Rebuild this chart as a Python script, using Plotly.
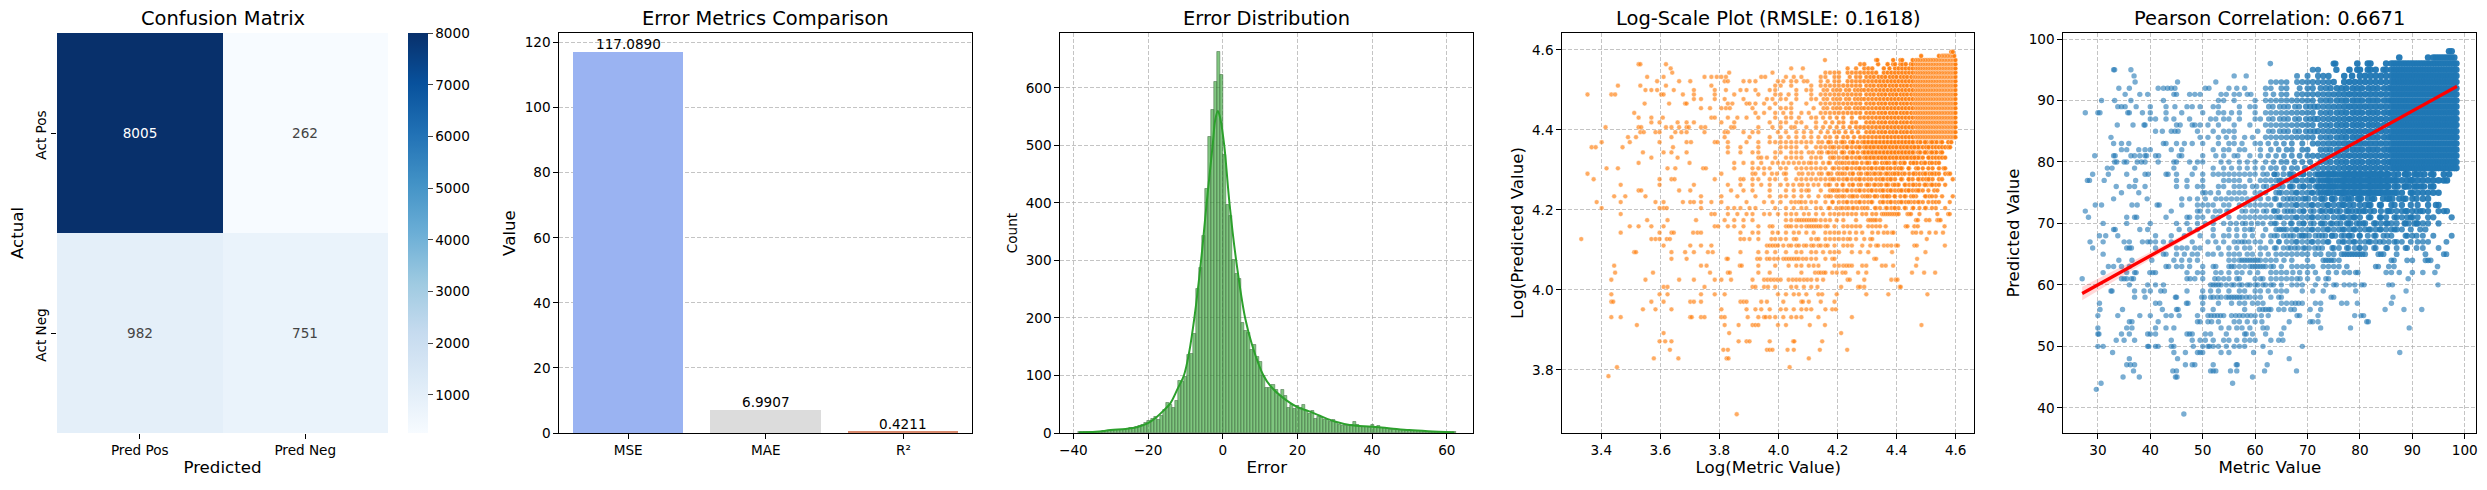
import numpy as np
import plotly.graph_objects as go

WIDTH = 2487
HEIGHT = 490
FONT = "DejaVu Sans"
GRID = "rgba(176,176,176,0.75)"
TICK_SIZE = 13.6

# confusion matrix
cm_x = ["Pred Pos", "Pred Neg"]
cm_y = ["Act Pos", "Act Neg"]
cm_row_pos = [8005, 262]
cm_row_neg = [982, 751]
cm_ticks = [1000, 2000, 3000, 4000, 5000, 6000, 7000, 8000]
blues = ["#f7fbff", "#deebf7", "#c6dbef", "#9ecae1", "#6baed6", "#4292c6", "#2171b5", "#08519c", "#08306b"]

# error metrics
metric_names = ["MSE", "MAE", "R²"]
metric_scores = [117.0890, 6.9907, 0.4211]
metric_colors = ["#9ab3f2", "#dcdcdc", "#d98a6e"]

# error histogram, counts read bar by bar
hist_start = -38.3
hist_width = 0.81
hist_counts = [
    1, 1, 1, 1, 1, 2, 2, 2, 3, 3, 4, 5, 5, 5, 6, 6, 7, 8, 9, 10, 12, 14, 17, 21, 24, 28, 23, 30, 40, 52, 48, 43,
    55, 90, 88, 97, 136, 137, 173, 250, 287, 342, 425, 515, 562, 610, 663, 623, 484, 396, 377, 301, 277, 267,
    192, 177, 174, 144, 153, 133, 123, 99, 78, 79, 84, 75, 64, 75, 64, 43, 49, 42, 47, 43, 49, 39, 33, 39, 24,
    27, 26, 23, 22, 20, 23, 18, 14, 13, 13, 12, 14, 20, 14, 11, 11, 10, 9, 14, 11, 13, 9, 8, 7, 6, 5, 6, 6, 5,
    5, 4, 4, 3, 3, 3, 2, 2, 2, 2, 2, 1, 1, 1, 1, 1, 1,
]
kde_x = [-38.5, -34, -30, -26, -23, -20, -18, -16, -14, -12, -10.4, -9, -7.6, -5.8, -4.3, -2.7, -2, -1.3, -0.6,
         0.4, 1.8, 3.6, 6, 8, 10.9, 13, 16, 20, 23, 26, 30, 34, 40, 45, 50, 55, 62]
kde_y = [1, 2, 5, 7, 10, 17, 26, 38, 52, 78, 100, 140, 200, 300, 400, 500, 545, 560, 545,
         500, 400, 300, 200, 150, 100, 80, 62, 45, 38, 30, 20, 14, 11, 8, 5, 3, 1]

# metric / predicted pairs, one list of metric values per predicted value
# the runs below are the stretches where the points merge into one mass
patch_a = [63.7, 66.8, 69.2, 72.8, 74.7, 77.8, 79.9, 82.7, 85.2, 88.7, 90.8]
patch_b = [64.6, 67.8, 70.8, 73.8, 76.7, 78.8, 81.7, 83.8, 86.6, 89.7]
band_62_71 = [62, 63, 64, 65, 66, 67, 68, 69, 70, 71]
band_62_71_b = [62.6, 63.4, 64.7, 65.5, 66.3, 67.6, 68.4, 69.7, 70.5, 71.3]
band_72_85 = [72, 73, 74, 75, 76, 77, 78, 79, 80, 81, 82, 83, 84, 85]
band_72_85_b = [72.5, 73.5, 74.4, 75.6, 76.5, 77.4, 78.6, 79.5, 80.4, 81.6, 82.5, 83.4, 84.6, 85.5]
solid_86_98 = [86, 86.5, 87, 87.5, 88, 88.5, 89, 89.5, 90, 90.5, 91, 91.5, 92, 92.5, 93, 93.5, 94, 94.5, 95, 95.5,
               96, 96.5, 97, 97.5, 98, 98.4]
pred_39 = [46.4]
pred_43 = [29.7]
pred_44 = [30.6, 55.7]
pred_45 = [34.8, 37.9, 44.8, 45.1, 59.5]
pred_46 = [36.8, 44.3, 45, 51.5, 52, 52.5, 55.3, 56.5, 61.8, 67.9]
pred_47 = [35.5, 36.2, 37, 46.7, 48, 48.5, 52, 56.4, 56.6, 62.3]
pred_48 = [36, 45.2, 66.5]
pred_49 = [32.8, 44.5, 46.7, 49, 49.5, 50, 53.5, 55, 59.7, 62.9, 87.6]
pred_50 = [30, 31, 39.5, 39.7, 41, 41.5, 44, 44.5, 48.2, 50, 51, 51.3, 52, 53, 54.5, 56, 57, 58, 61.5, 69]
pred_51 = [33.5, 35, 37, 44, 48, 49.5, 50.5, 52, 54, 55, 56.5, 58, 59, 60, 63, 64.5, 65.3]
pred_52 = [30, 30.2, 34.5, 36, 39.5, 40, 41, 47, 47.5, 48, 50.5, 51.5, 54.5, 58, 58.3, 59.5, 62, 65]
pred_53 = [30, 35.5, 36.5, 41, 43, 44.5, 53.5, 55, 56.5, 57.5, 59, 61.5, 62.3, 65.5, 72.5, 78.2, 89.4]
pred_54 = [36, 36.5, 41.5, 49, 49.5, 51, 51.7, 53, 56, 57, 58.5, 60, 61.3, 66.5, 70.5, 71, 72, 81.3, 81.6]
pred_55 = [30, 33.8, 38, 40, 43, 44, 45.5, 49, 51, 51.6, 52.2, 52.8, 53.4, 54, 55.5, 56.3, 57, 57.7, 58.5, 59.2,
           60, 61.2, 62.5, 68, 68.5, 72, 79, 80.2, 80.7]
pred_56 = [30.4, 34.7, 42.3, 45, 45.3, 50, 52, 58, 60.8, 61.5, 62, 62.6, 63, 64.5, 65.5, 66.8, 67.5, 70.5, 72.5,
           84.8, 88.4, 91.8]
pred_57 = [30.3, 41, 41.8, 46.9, 47.2, 50, 53, 55.5, 57, 58, 59.5, 60.5, 61.5, 65, 66, 67, 67.7, 68.3, 69, 71.5,
           72.5, 76.5, 77.5, 79.5, 86]
pred_58 = [37, 39, 44.8, 45, 49.8, 50.3, 51.5, 52, 52.8, 53.5, 54.5, 55, 55.5, 56, 56.5, 57, 57.5, 58.3, 59, 60,
           61, 63, 64.5, 65, 74.5, 75, 86.3]
pred_59 = [32.5, 32.7, 37, 38.8, 40, 42, 42.7, 47, 50, 51.5, 53, 55, 57, 58, 60, 61, 62.5, 64, 65, 66, 69, 71, 73,
           79.2, 88.8]
pred_60 = [36, 39.5, 41, 42.5, 51.5, 52, 52.5, 53, 53.5, 54.5, 55.5, 56, 57, 57.5, 58.5, 59, 60, 60.5, 61.5, 62,
           63, 63.5, 65, 67, 68, 69, 71.5, 73.5, 75, 75.5, 77, 78, 79, 80.3, 80.8, 85.5, 86.2, 94.9]
pred_61 = [27, 34.5, 35, 35.5, 36.4, 36.8, 47, 47.6, 48.5, 50, 52.3, 53, 54, 55, 56.5, 57, 60, 61, 61.5, 63, 64,
           65, 66, 67, 68, 68.6, 70, 72, 73.5, 74, 89.2]
pred_62 = [31, 35.5, 37, 37.3, 39.9, 40.5, 41, 47, 49, 50, 52.5, 53.5, 55, 56.5, 57.5, 59, 60.5, 63, 64, 65, 66,
           67.2, 68.5, 70, 71.5, 74, 75.5, 77, 78, 79.2, 79.6, 85, 86, 87.5, 90, 92, 94.3]
pred_63 = [32, 33, 34.5, 36, 43, 43.5, 45, 46, 47.5, 50, 52, 52.5, 55, 55.5, 56, 57, 58, 59, 59.5, 60, 60.5, 61,
           61.5, 62, 63, 63.5, 65, 67, 68, 69, 70, 71, 73, 74, 75, 76, 77.5, 83, 83.5, 85.5, 86.5, 94.8]
pred_64 = [34, 36.5, 40.3, 44.5, 46, 47.5, 49, 55, 56, 57, 57.5, 58, 58.5, 59, 59.5, 60, 60.5, 61, 62, 63, 64,
           65.5, 67, 70, 73, 73.5, 74, 74.5, 75, 76, 86, 86.5, 89, 90, 92.5, 93, 93.5]
pred_65 = [31, 42.5, 43, 45, 46.5, 48, 49, 51, 52, 53.5, 55, 56, 57, 58.5, 59.5, 61, 62.5, 64, 65, 66, 67, 68, 69,
           70, 71.5, 72.5, 74, 75, 76.5, 77, 77.5, 78, 78.5, 79, 79.5, 80, 80.5, 81, 83.5, 84, 84.5, 87, 92.5, 96,
           96.5]
pred_66 = [29, 35.5, 36, 36.4, 41, 45, 46, 47, 48.5, 49.5, 53, 55, 56.5, 58, 59, 61, 62, 64, 65.4, 66.3, 67.6, 68.2,
           69.5, 70.3, 71.4, 72.1, 75, 76, 77.5, 79, 80, 81, 83, 85, 87, 89, 92, 95] + patch_a
pred_67 = [28.5, 31, 35, 36, 38.5, 39.5, 40, 41, 42.5, 44, 48, 51, 52.5, 54, 56, 56.8, 57.5, 58, 58.8, 60, 61, 63,
           64.5, 66, 67, 68, 69, 70, 71, 72, 73, 74, 76, 77, 78, 79, 80, 81, 82, 83, 84.5, 85.5, 87, 88, 91, 92,
           93, 96.5] + patch_b
pred_68 = [30.3, 31.5, 33.8, 41, 44, 46.5, 49.5, 52, 54, 55, 56.5, 58, 59.5, 61.5, 63, 64.2, 65.4, 66.1, 67.3, 68.4,
           68.9, 69.6, 70.3, 71.5, 72.2, 73.4, 74.6, 75.3, 76.5, 77, 78, 78.5, 80, 81.5, 83, 84.5, 86, 89, 90, 92,
           94, 97.5] + patch_a
pred_69 = [33, 33.3, 38, 39.5, 45.5, 47.5, 49, 52, 55, 56.5, 58, 59, 59.5, 62, 64, 65, 65.5, 66, 67, 68, 69, 70,
           71, 72, 73, 74, 75, 76, 77, 78, 79, 80, 81, 82, 83, 84, 85, 86, 87, 88, 91.5, 92.5] + patch_b
pred_70 = [31, 35.5, 40, 45, 47, 49, 50.5, 52, 54, 55.3, 56.4, 57.6, 58.2, 59.3, 60.5, 61.5, 63, 64, 65.5, 67, 68.4,
           69.3, 70.6, 71.2, 72.5, 73.3, 74.4, 75.6, 76.3, 77.5, 78.2, 79.4, 80.6, 81, 83, 84, 85, 86, 87, 88.5,
           89.3, 90.4, 91, 92, 93, 95] + patch_a
pred_71 = [28.2, 35.5, 37, 37.4, 43, 47, 47.5, 49, 50, 52, 53, 55, 57, 58, 59, 60, 61, 62, 63, 64, 65, 66, 67, 68,
           69, 70, 71, 72, 73, 75, 76, 77, 78, 79, 80, 82, 84, 85, 87, 88, 89, 90, 91, 93, 94, 97.5] + patch_b
pred_72 = [27.6, 44, 49, 49.5, 51, 52.4, 53.3, 54.6, 55, 57.5, 58.2, 59.4, 60.3, 61.6, 62.2, 63.5, 64.3, 65.6, 66.2,
           67.4, 68.5, 69.3, 70.6, 71.2, 72.4, 73.5, 74.3, 75.6, 76.2, 77.4, 78.5, 79.3, 80.6, 81, 82, 84, 85.5, 86,
           87, 88, 89, 90, 91.5, 92, 93, 95, 96, 96.6] + patch_a
pred_73 = [29.5, 30.7, 36.5, 37.5, 41.3, 41.7, 46, 49, 50, 51, 52, 54, 55, 57, 58, 59, 60, 61, 62, 63, 65, 66, 67,
           68, 69, 70, 71, 72, 73, 74, 75, 76, 77, 78, 80, 81, 82, 84, 86, 88, 91, 93, 94.5, 95] + patch_b
pred_74 = [33, 39.4, 46, 47.5, 49, 50.5, 52.5, 53.5, 54.5, 55.5, 56.5, 57.5, 58.5, 59.5, 60, 61, 62.5, 64, 65.4, 66.2,
           67.5, 68.3, 69.6, 70.2, 71.4, 72.5, 73.3, 74.6, 75.2, 76.5, 77.3, 78.4, 79.6, 80.2, 81.5, 82.3, 84.4, 85.6,
           86.2, 87.5, 88.3, 90, 92, 93] + patch_a
pred_75 = [34.5, 37.8, 50, 50.5, 51.5, 53, 55, 56, 57, 58, 60, 61, 62, 64, 65, 66, 67, 68, 69, 70, 71, 72, 73, 74,
           75, 76, 77, 78, 79, 80, 81, 82, 83, 84, 85, 86, 87, 88, 90, 91, 92, 93, 94, 95] + patch_b + band_72_85_b
pred_76 = [33.5, 36, 37, 39, 45, 47, 49, 50, 53, 54, 56, 57, 58, 59.5, 60.3, 61.6, 62.2, 63.4, 64.5, 65.3, 66.6, 67.2,
           68.5, 69.3, 70.4, 71.6, 72.2, 73.5, 74.3, 75.4, 76.6, 77.2, 78.5, 79.3, 80.4, 81.6, 82.2, 83.5, 84.3, 85.4,
           86.6, 87.2, 88.5, 89.3, 90.4, 91.6, 92.2, 93.5, 94] + patch_a + band_72_85
pred_77 = [28, 28.4, 31.2, 37.2, 45, 47, 50, 54, 55, 56, 57, 59, 61, 62, 63, 64, 65, 66, 67, 68, 69, 70, 71, 72,
           73, 74, 75, 76, 77, 78, 79, 80, 81, 82, 83, 84, 85, 86, 87, 88, 89, 90, 91, 92, 93, 94, 95, 96, 96.6] + patch_b + band_72_85_b
pred_78 = [29, 32, 35.5, 39, 39.6, 43, 43.4, 45, 48, 50, 52, 53, 54, 55, 56, 57, 58, 59, 60, 61.5, 62.3, 63.6, 64.2,
           65.4, 66.5, 67.3, 68.6, 69.2, 70.4, 71.5, 72.3, 73.6, 74.2, 75.4, 76.5, 77.3, 78.6, 79.2, 80.4, 81.5,
           82.3, 83.6, 84.2, 85.4, 86.5, 87.3, 88.6, 89.2, 90.4, 91.5, 92.3, 93.6, 94, 96, 97] + patch_a + band_72_85
pred_79 = [31.8, 32.7, 37, 44.5, 48.5, 52, 54, 55.5, 57, 58.5, 60, 61.5, 63, 64, 65.5, 67, 68, 69.5, 71] + band_72_85 + solid_86_98
pred_80 = [33.2, 33.6, 35, 35.5, 37.5, 38.3, 39, 41.5, 44.5, 45, 47.5, 49, 50, 53.5, 55, 57, 58.5, 60, 62, 63.5,
           65, 66, 67.5, 69, 70.5] + band_72_85_b + solid_86_98
pred_81 = [29.4, 33, 33.3, 36.3, 37, 38, 39, 39.3, 41, 41.6, 45.5, 46, 50, 52.5, 54, 56, 56.7, 59, 61, 62.5, 64,
           65.5, 67, 68.5, 70, 71] + band_72_85 + solid_86_98
pred_82 = [34.5, 35.5, 37.8, 39, 40, 44, 46, 52, 54, 55, 57, 58, 61, 63, 64.5, 66, 67, 69, 70] + band_72_85_b + solid_86_98
pred_83 = [33, 34.5, 35.9, 42.5, 43, 45, 46.5, 48, 50, 53, 55, 56, 57.5, 60, 61, 62.5, 64, 65.5, 67, 69, 71] + band_72_85 + solid_86_98
pred_84 = [32.5, 49.5, 51, 53, 54.5, 56, 58, 59.5] + band_62_71 + band_72_85_b + solid_86_98
pred_85 = [41, 42.3, 44, 44.7, 45.3, 49, 52, 54, 55, 56, 60.5] + band_62_71_b + band_72_85 + solid_86_98
pred_86 = [33.7, 36.7, 38.8, 39, 45, 45.7, 48, 48.5, 49.5, 51, 53, 56, 59] + band_62_71 + band_72_85_b + solid_86_98
pred_87 = [40, 41, 43, 44.5, 47.5, 51.5, 52.5, 54, 55, 57, 60, 61] + band_62_71_b + band_72_85 + solid_86_98
pred_88 = [27.6, 30, 30.4, 35.7, 36, 38.5, 40, 43, 46, 50, 53, 54, 55.5, 57, 60] + band_62_71 + band_72_85_b + solid_86_98
pred_89 = [33.8, 34.5, 35.2, 37.3, 40, 43, 44.7, 47, 48, 49.5, 52, 53, 57, 59, 60] + band_62_71_b + band_72_85 + solid_86_98
pred_90 = [30.7, 33.2, 36.3, 42.5, 53, 54, 56, 60] + band_62_71 + band_72_85_b + solid_86_98
pred_91 = [35.2, 38, 39.5, 44.5, 45, 47.5, 48.5, 49.5, 53.5, 54.5, 56, 57, 58.5, 59.2, 62, 63.5, 65, 66, 68, 69, 70, 71] + band_72_85 + solid_86_98
pred_92 = [34, 36, 41.5, 42.5, 43.3, 44, 44.7, 50.5, 51.2, 55, 56.5, 58, 62, 63, 65, 66, 68.5, 70, 71] + band_72_85_b + solid_86_98
pred_93 = [37.1, 45.2, 52.5, 63, 64, 65, 66, 68, 69, 70, 71, 72, 73, 74, 75, 77, 78, 79, 80, 81, 82, 83, 84, 85] + solid_86_98
pred_94 = [36.9, 56, 58.3, 68, 70, 72, 73, 74, 77, 78.5, 80, 81, 82, 83, 84, 85] + solid_86_98
pred_95 = [33, 33.2, 36.3, 71, 72, 75.5, 78, 79.5, 80, 81.5, 82, 83, 84.5, 85] + solid_86_98
pred_96 = [62.9, 75, 75.3, 79.5, 81.5, 82, 85] + solid_86_98
pred_97 = [87.5, 93, 94, 94.5, 95, 95.5, 96, 96.5, 97, 97.5, 98]
pred_98 = [97, 97.5]

pred_levels = [39, 43, 44, 45, 46, 47, 48, 49, 50, 51, 52, 53, 54, 55, 56, 57, 58, 59, 60, 61, 62, 63, 64, 65, 66,
               67, 68, 69, 70, 71, 72, 73, 74, 75, 76, 77, 78, 79, 80, 81, 82, 83, 84, 85, 86, 87, 88, 89, 90, 91,
               92, 93, 94, 95, 96, 97, 98]
metric_rows = [pred_39, pred_43, pred_44, pred_45, pred_46, pred_47, pred_48, pred_49, pred_50, pred_51, pred_52,
               pred_53, pred_54, pred_55, pred_56, pred_57, pred_58, pred_59, pred_60, pred_61, pred_62, pred_63,
               pred_64, pred_65, pred_66, pred_67, pred_68, pred_69, pred_70, pred_71, pred_72, pred_73, pred_74,
               pred_75, pred_76, pred_77, pred_78, pred_79, pred_80, pred_81, pred_82, pred_83, pred_84, pred_85,
               pred_86, pred_87, pred_88, pred_89, pred_90, pred_91, pred_92, pred_93, pred_94, pred_95, pred_96,
               pred_97, pred_98]

# regression line and its confidence band
reg_x = [27, 40, 55, 70, 85, 98.5]
reg_y = [58.6, 64.73, 71.8, 78.87, 85.93, 92.3]
reg_upper = [59.7, 65.33, 72.1, 79.07, 86.18, 92.7]
reg_lower = [57.5, 64.13, 71.5, 78.67, 85.68, 91.9]

# flatten rows into point arrays
metric_values = np.concatenate([np.array(r, dtype=float) for r in metric_rows])
pred_values = np.concatenate([np.full(len(r), p, dtype=float) for p, r in zip(pred_levels, metric_rows)])
# the original has far more overplotted points up there: fake the build-up towards the top right corner
packing = np.clip((metric_values - 60) / 18, 0, 1) * np.clip((pred_values - 60) / 16, 0, 1)


def domain_x(left, right):
    return [left / WIDTH, right / WIDTH]


PANEL_Y = [(HEIGHT - 433) / HEIGHT, (HEIGHT - 33) / HEIGHT]


def axis(left, right, title, title_size=16.67, standoff=4, **kwargs):
    settings = dict(
        domain=domain_x(left, right),
        title=dict(text=title, font=dict(size=title_size, color="black"), standoff=standoff),
        ticks="outside", ticklen=5, tickwidth=1, tickcolor="black",
        tickfont=dict(size=TICK_SIZE, color="black"),
        showline=True, mirror=True, linecolor="black", linewidth=1,
        zeroline=False, showgrid=True, gridcolor=GRID, gridwidth=1, griddash="4px,2px",
        automargin=False,
    )
    settings.update(kwargs)
    return settings


fig = go.Figure()

fig.add_trace(go.Heatmap(
    z=[cm_row_pos, cm_row_neg], x=cm_x, y=cm_y, xaxis="x", yaxis="y",
    colorscale=blues, zmin=262, zmax=8005, xgap=0, ygap=0,
    texttemplate="%{z}", textfont=dict(size=TICK_SIZE),
    colorbar=dict(
        x=408 / WIDTH, xanchor="left", xpad=0, ypad=0, y=0.5 * (PANEL_Y[0] + PANEL_Y[1]), yanchor="middle",
        len=PANEL_Y[1] - PANEL_Y[0], thickness=20, outlinewidth=0, ticks="outside", ticklen=5,
        tickvals=cm_ticks, tickfont=dict(size=TICK_SIZE, color="black"),
    ),
))

fig.add_trace(go.Bar(
    x=metric_names, y=metric_scores, xaxis="x2", yaxis="y2", width=0.8,
    marker=dict(color=metric_colors, line=dict(width=0)),
))

fig.add_trace(go.Bar(
    x0=hist_start, dx=hist_width, y=hist_counts, xaxis="x3", yaxis="y3", width=hist_width,
    marker=dict(color="rgba(44,160,44,0.6)", line=dict(width=1, color="rgba(70,110,70,0.55)")),
))
fig.add_trace(go.Scatter(
    x=kde_x, y=kde_y, xaxis="x3", yaxis="y3", mode="lines",
    line=dict(color="#2ca02c", width=2, shape="spline"),
))

fig.add_trace(go.Scatter(
    x=np.log1p(metric_values), y=np.log1p(pred_values), xaxis="x4", yaxis="y4", mode="markers",
    marker=dict(color="#ff7f0e", size=4.8, opacity=0.65 + 0.3 * packing, line=dict(width=0.4, color="white")),
))

fig.add_trace(go.Scatter(
    x=metric_values, y=pred_values, xaxis="x5", yaxis="y5", mode="markers",
    marker=dict(color="#1f77b4", size=5.4 + 1.2 * packing, opacity=0.6 + 0.36 * packing, line=dict(width=0)),
))
fig.add_trace(go.Scatter(
    x=reg_x + reg_x[::-1], y=reg_upper + reg_lower[::-1], xaxis="x5", yaxis="y5", mode="lines",
    fill="toself", fillcolor="rgba(255,0,0,0.15)", line=dict(width=0),
))
fig.add_trace(go.Scatter(
    x=reg_x, y=reg_y, xaxis="x5", yaxis="y5", mode="lines", line=dict(color="red", width=3.3),
))

panel_titles = [
    ("Confusion Matrix", 222.5),
    ("Error Metrics Comparison", 765.8),
    ("Error Distribution", 1266.8),
    ("Log-Scale Plot (RMSLE: 0.1618)", 1768.3),
    ("Pearson Correlation: 0.6671", 2269.8),
]
annotations = [
    dict(text=t, x=cx / WIDTH, y=1 - 18 / HEIGHT, xref="paper", yref="paper", xanchor="center", yanchor="middle",
         showarrow=False, font=dict(size=19.44, color="black"))
    for t, cx in panel_titles
]
# value labels sit right on top of the bars
annotations += [
    dict(text=f"{v:.4f}", x=name, y=v, xref="x2", yref="y2", xanchor="center", yanchor="bottom", yshift=-2,
         showarrow=False, font=dict(size=TICK_SIZE, color="black"))
    for name, v in zip(metric_names, metric_scores)
]

fig.update_layout(
    width=WIDTH, height=HEIGHT, autosize=False,
    margin=dict(l=0, r=0, t=0, b=0),
    paper_bgcolor="white", plot_bgcolor="white",
    font=dict(family=FONT, color="black"),
    showlegend=False, bargap=0, annotations=annotations,
    xaxis=axis(57, 388, "Predicted", showline=False, mirror=False, showgrid=False, anchor="y"),
    yaxis=dict(axis(0, 0, "Actual", showline=False, mirror=False, showgrid=False, anchor="x", tickangle=-90,
                    autorange="reversed", ticklabelshift=-4), domain=PANEL_Y),
    xaxis2=axis(559.3, 972.3, "", showgrid=False, anchor="y2", range=[-0.5, 2.5]),
    yaxis2=dict(axis(0, 0, "Value", anchor="x2", range=[0, 122.94], dtick=20), domain=PANEL_Y),
    xaxis3=axis(1060.3, 1473.3, "Error", anchor="y3", range=[-43.5, 67.1], dtick=20),
    yaxis3=dict(axis(0, 0, "Count", title_size=13.6, anchor="x3", range=[0, 695.6], dtick=100), domain=PANEL_Y),
    xaxis4=axis(1562.3, 1974.3, "Log(Metric Value)", anchor="y4", range=[3.268, 4.663], dtick=0.2,
                tickformat=".1f"),
    yaxis4=dict(axis(0, 0, "Log(Predicted Value)", anchor="x4", range=[3.642, 4.6425], dtick=0.2,
                     tickformat=".1f"), domain=PANEL_Y),
    xaxis5=axis(2063.3, 2476.3, "Metric Value", anchor="y5", range=[23.4, 102.2], dtick=10),
    yaxis5=dict(axis(0, 0, "Predicted Value", anchor="x5", range=[35.9, 100.98], dtick=10), domain=PANEL_Y),
)

fig.write_html("out.html", post_script="document.body.style.margin='0';", config=dict(displayModeBar=False))
